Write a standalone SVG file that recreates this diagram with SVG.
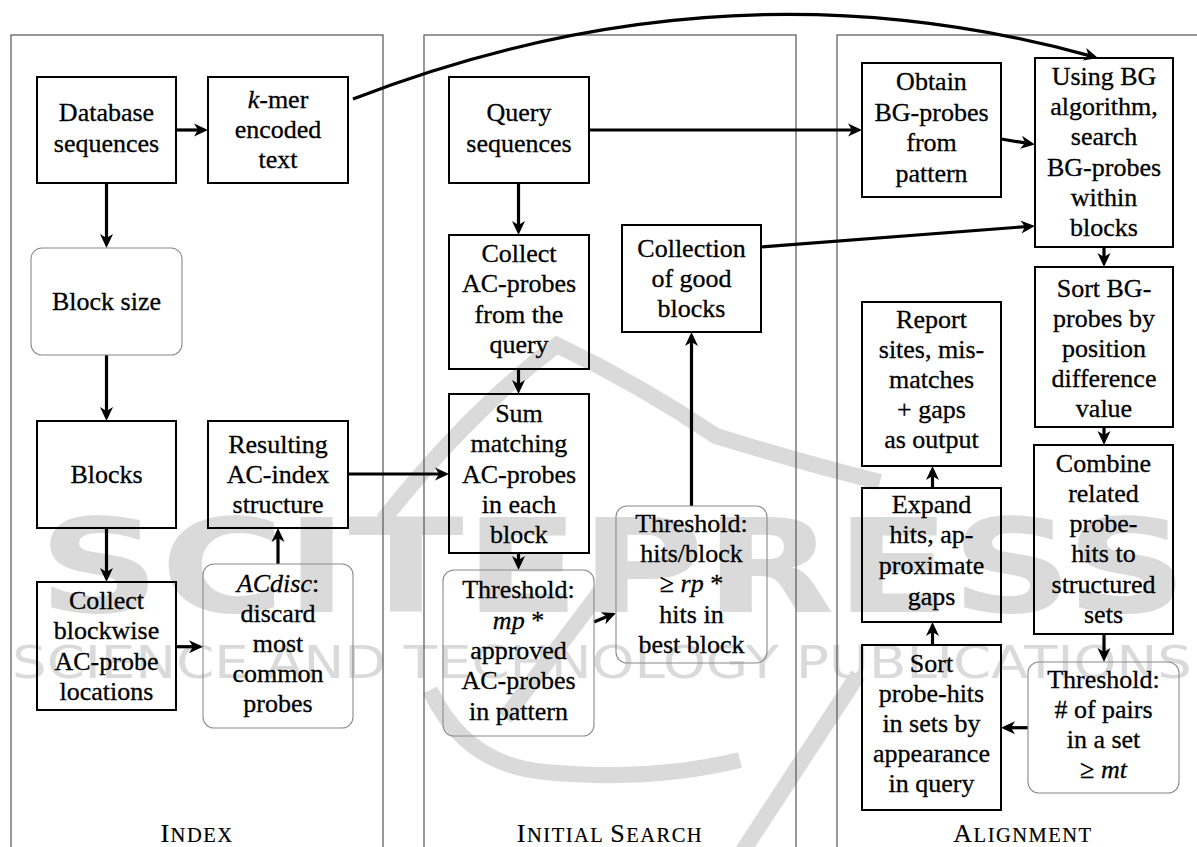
<svg xmlns="http://www.w3.org/2000/svg" width="1197" height="847" viewBox="0 0 1197 847">
<defs>
<style>
.t{font-family:"Liberation Serif","Times New Roman",serif;font-size:26px;fill:#000;stroke:#000;stroke-width:0.3;text-anchor:middle}
.i{font-style:italic}
.box{fill:none;stroke:#000;stroke-width:2}
.rbox{fill:none;stroke:#8a8a8a;stroke-width:1.1}
.panel{fill:none;stroke:#555;stroke-width:1.2}
.c{fill:none;stroke:#000;stroke-width:3.2}
.lbl{font-family:"Liberation Serif","Times New Roman",serif;font-size:20.5px;letter-spacing:1.5px;text-anchor:middle;fill:#000;stroke:#000;stroke-width:0.2}
.big{font-size:26px}
.wm{fill:#dadada;font-family:"DejaVu Sans",sans-serif}
.ws{fill:none;stroke:#dadada;stroke-width:16;stroke-linecap:butt}
</style>
<marker id="ah" viewBox="0 0 14 14" refX="7" refY="7" markerWidth="14" markerHeight="14" markerUnits="userSpaceOnUse" orient="auto">
<path d="M0,0.5 L14,7 L0,13.5 L4,7 Z" fill="#000"/>
</marker>
</defs>
<rect width="1197" height="847" fill="#fff"/>

<g id="watermark">
<text class="wm" x="38" y="612" font-size="130" font-weight="bold" textLength="1150" lengthAdjust="spacingAndGlyphs">SCITEPRESS</text>
<text class="wm" x="12" y="678" font-size="44" textLength="1180" lengthAdjust="spacingAndGlyphs">SCIENCE AND TECHNOLOGY PUBLICATIONS</text>
<path class="ws" d="M383,520 Q470,410 557,345 Q640,385 716,436 Q800,462 880,482"/>
<path class="ws" d="M505,718 L615,572"/>
<path class="ws" d="M430,690 Q465,765 545,772 Q650,782 740,760"/>
<path class="ws" d="M737,860 L858,675"/>
</g>

<g id="panels">
<rect class="panel" x="11" y="35" width="372" height="830"/>
<rect class="panel" x="424" y="35" width="372" height="830"/>
<rect class="panel" x="837" y="35" width="372" height="830"/>
<text class="lbl" x="197" y="842"><tspan class="big">I</tspan>NDEX</text>
<text class="lbl" x="610" y="842"><tspan class="big">I</tspan>NITIAL <tspan class="big">S</tspan>EARCH</text>
<text class="lbl" x="1023" y="842"><tspan class="big">A</tspan>LIGNMENT</text>
</g>

<g id="connectors">
<line class="c" x1="176" y1="130" x2="201" y2="130" marker-end="url(#ah)"/>
<line class="c" x1="106.5" y1="183" x2="106.5" y2="241" marker-end="url(#ah)"/>
<line class="c" x1="106.5" y1="355" x2="106.5" y2="414" marker-end="url(#ah)"/>
<line class="c" x1="106.5" y1="528" x2="106.5" y2="575" marker-end="url(#ah)"/>
<line class="c" x1="176" y1="646.7" x2="196" y2="646.7" marker-end="url(#ah)"/>
<line class="c" x1="278" y1="564" x2="278" y2="535" marker-end="url(#ah)"/>
<line class="c" x1="348" y1="474" x2="442" y2="474" marker-end="url(#ah)"/>
<line class="c" x1="518.5" y1="183" x2="518.5" y2="228" marker-end="url(#ah)"/>
<line class="c" x1="518.5" y1="369" x2="518.5" y2="387" marker-end="url(#ah)"/>
<line class="c" x1="518.5" y1="553" x2="518.5" y2="563" marker-end="url(#ah)"/>
<line class="c" x1="594" y1="622" x2="609.5" y2="615.6" marker-end="url(#ah)"/>
<line class="c" x1="691.5" y1="506" x2="691.5" y2="339" marker-end="url(#ah)"/>
<line class="c" x1="589" y1="130" x2="855" y2="130" marker-end="url(#ah)"/>
<line class="c" x1="1001" y1="139" x2="1028" y2="143.4" marker-end="url(#ah)"/>
<line class="c" x1="761" y1="247" x2="1028" y2="226.5" marker-end="url(#ah)"/>
<path class="c" d="M353,99 Q725,-45 1091.3,56.1" marker-end="url(#ah)"/>
<line class="c" x1="1104" y1="247" x2="1104" y2="260" marker-end="url(#ah)"/>
<line class="c" x1="1104" y1="427" x2="1104" y2="438" marker-end="url(#ah)"/>
<line class="c" x1="1104" y1="634" x2="1104" y2="655" marker-end="url(#ah)"/>
<line class="c" x1="1028" y1="727.7" x2="1008" y2="727.7" marker-end="url(#ah)"/>
<line class="c" x1="932.5" y1="645" x2="932.5" y2="629" marker-end="url(#ah)"/>
<line class="c" x1="932.5" y1="488" x2="932.5" y2="473" marker-end="url(#ah)"/>
</g>

<g id="n-database">
<rect class="box" x="37" y="77" width="139" height="106"/>
<text class="t" x="106.5" y="121">Database</text>
<text class="t" x="106.5" y="151.5">sequences</text>
</g>
<g id="n-kmer">
<rect class="box" x="208" y="77" width="140" height="106"/>
<text class="t" x="278" y="108.3"><tspan class="i">k</tspan>-mer</text>
<text class="t" x="278" y="138.3">encoded</text>
<text class="t" x="278" y="168.3">text</text>
</g>
<g id="n-blocksize">
<rect class="rbox" x="31" y="248" width="151" height="107" rx="11"/>
<text class="t" x="106.5" y="310">Block size</text>
</g>
<g id="n-blocks">
<rect class="box" x="37" y="421" width="139" height="107"/>
<text class="t" x="106.5" y="483">Blocks</text>
</g>
<g id="n-resulting">
<rect class="box" x="208" y="421" width="140" height="107"/>
<text class="t" x="278" y="453.3">Resulting</text>
<text class="t" x="278" y="483">AC-index</text>
<text class="t" x="278" y="513.3">structure</text>
</g>
<g id="n-collectblockwise">
<rect class="box" x="37" y="582" width="139" height="128"/>
<text class="t" x="106.5" y="608.5">Collect</text>
<text class="t" x="106.5" y="639">blockwise</text>
<text class="t" x="106.5" y="669.5">AC-probe</text>
<text class="t" x="106.5" y="700">locations</text>
</g>
<g id="n-acdisc">
<rect class="rbox" x="203" y="564" width="150" height="164" rx="11"/>
<text class="t" x="278" y="591.7"><tspan class="i">ACdisc</tspan>:</text>
<text class="t" x="278" y="621.7">discard</text>
<text class="t" x="278" y="651.7">most</text>
<text class="t" x="278" y="681.7">common</text>
<text class="t" x="278" y="711.7">probes</text>
</g>

<g id="n-query">
<rect class="box" x="449" y="77" width="140" height="106"/>
<text class="t" x="519" y="121">Query</text>
<text class="t" x="519" y="151.5">sequences</text>
</g>
<g id="n-collectac">
<rect class="box" x="449" y="235" width="140" height="134"/>
<text class="t" x="519" y="261.7">Collect</text>
<text class="t" x="519" y="292">AC-probes</text>
<text class="t" x="519" y="323">from the</text>
<text class="t" x="519" y="353.3">query</text>
</g>
<g id="n-goodblocks">
<rect class="box" x="622" y="225" width="139" height="107"/>
<text class="t" x="691.5" y="256.7">Collection</text>
<text class="t" x="691.5" y="287">of good</text>
<text class="t" x="691.5" y="317">blocks</text>
</g>
<g id="n-sum">
<rect class="box" x="449" y="394" width="140" height="159"/>
<text class="t" x="519" y="421.7">Sum</text>
<text class="t" x="519" y="451.7">matching</text>
<text class="t" x="519" y="482.7">AC-probes</text>
<text class="t" x="519" y="512.7">in each</text>
<text class="t" x="519" y="542.7">block</text>
</g>
<g id="n-thrmp">
<rect class="rbox" x="443" y="570" width="151" height="166" rx="11"/>
<text class="t" x="518.5" y="598.3">Threshold:</text>
<text class="t" x="518.5" y="628.6"><tspan class="i">mp</tspan> *</text>
<text class="t" x="518.5" y="658.9">approved</text>
<text class="t" x="518.5" y="689.2">AC-probes</text>
<text class="t" x="518.5" y="719.5">in pattern</text>
</g>
<g id="n-thrhits">
<rect class="rbox" x="616" y="506" width="151" height="157" rx="11"/>
<text class="t" x="691.5" y="531.7">Threshold:</text>
<text class="t" x="691.5" y="561.7">hits/block</text>
<text class="t" x="691.5" y="592">≥ <tspan class="i">rp</tspan> *</text>
<text class="t" x="691.5" y="623">hits in</text>
<text class="t" x="691.5" y="653.3">best block</text>
</g>

<g id="n-obtain">
<rect class="box" x="862" y="63" width="139" height="134"/>
<text class="t" x="931.5" y="90">Obtain</text>
<text class="t" x="931.5" y="120.5">BG-probes</text>
<text class="t" x="931.5" y="151">from</text>
<text class="t" x="931.5" y="181.5">pattern</text>
</g>
<g id="n-using">
<rect class="box" x="1035" y="58" width="138" height="189"/>
<text class="t" x="1104" y="85">Using BG</text>
<text class="t" x="1104" y="115.2">algorithm,</text>
<text class="t" x="1104" y="145.4">search</text>
<text class="t" x="1104" y="175.6">BG-probes</text>
<text class="t" x="1104" y="205.8">within</text>
<text class="t" x="1104" y="236">blocks</text>
</g>
<g id="n-sortbg">
<rect class="box" x="1035" y="267" width="138" height="160"/>
<text class="t" x="1104" y="296.7">Sort BG-</text>
<text class="t" x="1104" y="326.7">probes by</text>
<text class="t" x="1104" y="356.7">position</text>
<text class="t" x="1104" y="386.7">difference</text>
<text class="t" x="1104" y="416.7">value</text>
</g>
<g id="n-combine">
<rect class="box" x="1034" y="445" width="139" height="189"/>
<text class="t" x="1103.5" y="471.7">Combine</text>
<text class="t" x="1103.5" y="501.7">related</text>
<text class="t" x="1103.5" y="531.7">probe-</text>
<text class="t" x="1103.5" y="561.7">hits to</text>
<text class="t" x="1103.5" y="592.5">structured</text>
<text class="t" x="1103.5" y="623.3">sets</text>
</g>
<g id="n-thrmt">
<rect class="rbox" x="1028" y="662" width="151" height="131" rx="11"/>
<text class="t" x="1103.5" y="688.3">Threshold:</text>
<text class="t" x="1103.5" y="718.3"># of pairs</text>
<text class="t" x="1103.5" y="748.3">in a set</text>
<text class="t" x="1103.5" y="778.3">≥ <tspan class="i">mt</tspan></text>
</g>
<g id="n-report">
<rect class="box" x="862" y="302" width="139" height="164"/>
<text class="t" x="931.5" y="328.3">Report</text>
<text class="t" x="931.5" y="358.3">sites, mis-</text>
<text class="t" x="931.5" y="388.3">matches</text>
<text class="t" x="931.5" y="418.3">+ gaps</text>
<text class="t" x="931.5" y="448.3">as output</text>
</g>
<g id="n-expand">
<rect class="box" x="862" y="488" width="139" height="134"/>
<text class="t" x="931.5" y="513.3">Expand</text>
<text class="t" x="931.5" y="543.3">hits, ap-</text>
<text class="t" x="931.5" y="574">proximate</text>
<text class="t" x="931.5" y="604.5">gaps</text>
</g>
<g id="n-sortprobe">
<rect class="box" x="862" y="645" width="139" height="165"/>
<text class="t" x="931.5" y="671.7">Sort</text>
<text class="t" x="931.5" y="701.7">probe-hits</text>
<text class="t" x="931.5" y="731.7">in sets by</text>
<text class="t" x="931.5" y="761.7">appearance</text>
<text class="t" x="931.5" y="791.7">in query</text>
</g>
</svg>
